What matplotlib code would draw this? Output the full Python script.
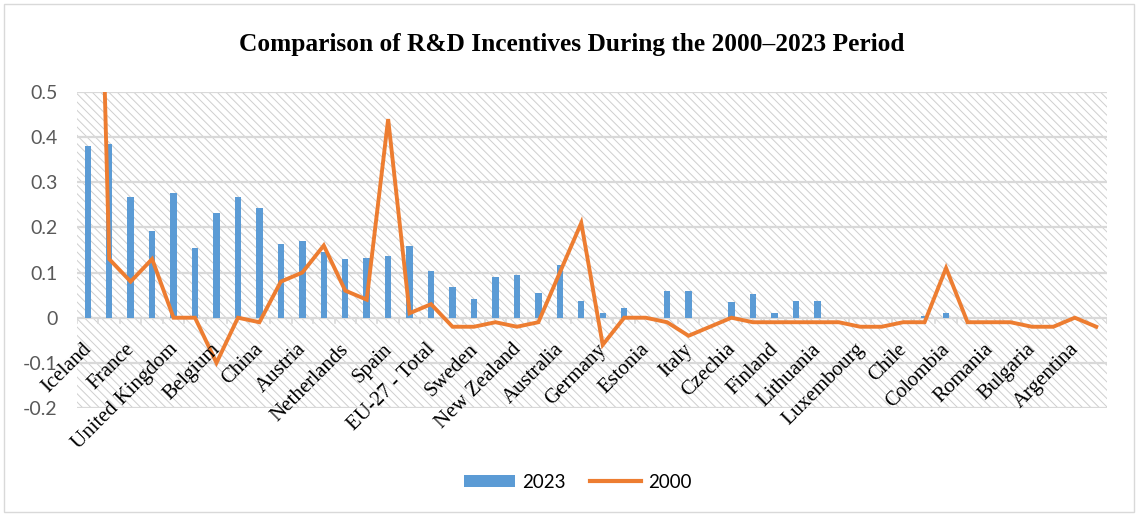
import matplotlib
matplotlib.use("Agg")
import matplotlib.pyplot as plt
from matplotlib.patches import Rectangle, Patch
from matplotlib.lines import Line2D

# categorias (solo se ven una de cada dos en el eje)
paises = ['Iceland', '', 'France', '', 'United Kingdom', '', 'Belgium', '',
          'China', '', 'Austria', '', 'Netherlands', '', 'Spain', '',
          'EU-27 - Total', '', 'Sweden', '', 'New Zealand', '', 'Australia', '',
          'Germany', '', 'Estonia', '', 'Italy', '', 'Czechia', '',
          'Finland', '', 'Lithuania', '', 'Luxembourg', '', 'Chile', '',
          'Colombia', '', 'Romania', '', 'Bulgaria', '', 'Argentina', '']

# valores 2023 (barras)
v2023 = [0.38, 0.385, 0.267, 0.192, 0.277, 0.154, 0.231, 0.267,
         0.242, 0.163, 0.169, 0.145, 0.129, 0.133, 0.137, 0.159,
         0.103, 0.068, 0.041, 0.09, 0.095, 0.055, 0.116, 0.037,
         0.01, 0.021, 0.0, 0.06, 0.059, 0.0, 0.035, 0.053,
         0.011, 0.038, 0.038, 0.0, 0.0, 0.0, 0.0, 0.004,
         0.011, 0.0, 0.0, 0.0, 0.0, 0.0, 0.0, 0.0]

# valores 2000 (linea)
v2000 = [1.95, 0.13, 0.08, 0.13, 0.0, 0.0, -0.1, 0.0,
         -0.01, 0.08, 0.1, 0.16, 0.06, 0.04, 0.44, 0.01,
         0.03, -0.02, -0.02, -0.01, -0.02, -0.01, 0.1, 0.21,
         -0.06, 0.0, 0.0, -0.01, -0.04, -0.02, 0.0, -0.01,
         -0.01, -0.01, -0.01, -0.01, -0.02, -0.02, -0.01, -0.01,
         0.11, -0.01, -0.01, -0.01, -0.02, -0.02, 0.0, -0.02]

yticks = [-0.2, -0.1, 0, 0.1, 0.2, 0.3, 0.4, 0.5]
ytick_labels = ['-0.2', '-0.1', '0', '0.1', '0.2', '0.3', '0.4', '0.5']

azul = '#5B9BD5'
naranja = '#ED7D31'
gris = '#D9D9D9'

plt.rcParams['hatch.linewidth'] = 0.7
plt.rcParams['hatch.color'] = '#CFCFCF'

fig = plt.figure(figsize=(11.38, 5.16), dpi=100)
ax = fig.add_axes([77 / 1138, 1 - 408 / 516, (1107 - 77) / 1138, (408 - 92) / 516])

x = list(range(len(paises)))

# fondo rayado
ax.add_patch(Rectangle((0, 0), 1, 1, transform=ax.transAxes, facecolor='white',
                       edgecolor='#CFCFCF', hatch='\\\\\\\\', linewidth=0, zorder=0))

for y in yticks:
    ax.axhline(y, color=gris, linewidth=1.6, zorder=1)

ax.bar(x, v2023, width=0.3, color=azul, zorder=2)
ax.plot(x, v2000, color=naranja, linewidth=2.8, solid_joinstyle='miter', zorder=3)

ax.set_xlim(-0.5, len(paises) - 0.5)
ax.set_ylim(-0.2, 0.5)

# marcas entre categorias sobre el eje cero
for i in range(len(paises) + 1):
    ax.plot([i - 0.5, i - 0.5], [0, -0.012], color=gris, linewidth=1.2, zorder=1)

ax.set_yticks(yticks)
ax.set_yticklabels(ytick_labels, fontsize=14, color='#595959', family='Lato')
ax.tick_params(axis='y', length=0, pad=14)

# etiquetas de paises colgando del eje cero
ax.set_xticks([])
for i, p in enumerate(paises):
    if p:
        ax.annotate(p, xy=(i, 0), xycoords='data', xytext=(-4, -16), textcoords='offset points',
                    rotation=45, ha='right', va='top', rotation_mode='anchor',
                    fontsize=15, family='Liberation Serif', color='black', annotation_clip=False)

for s in ax.spines.values():
    s.set_visible(False)

fig.text(572 / 1138, 1 - 45 / 516, 'Comparison of R&D Incentives During the 2000–2023 Period',
         ha='center', va='center', fontsize=18.3, fontweight='bold', family='Liberation Serif')

handles = [Patch(facecolor=azul), Line2D([0], [0], color=naranja, linewidth=3)]
fig.legend(handles, ['2023', '2000'], loc='center', bbox_to_anchor=(578 / 1138, 1 - 482 / 516),
           ncol=2, frameon=False, prop={'family': 'Lato', 'size': 13.5},
           handlelength=2.7, handleheight=0.6, columnspacing=1.3, handletextpad=0.4)

# borde del grafico
fig.patches.append(Rectangle((4 / 1138, 4 / 516), 1 - 8 / 1138, 1 - 8 / 516,
                             transform=fig.transFigure, fill=False, edgecolor='#D9D9D9', linewidth=1))

fig.savefig('out.png', dpi=100)
